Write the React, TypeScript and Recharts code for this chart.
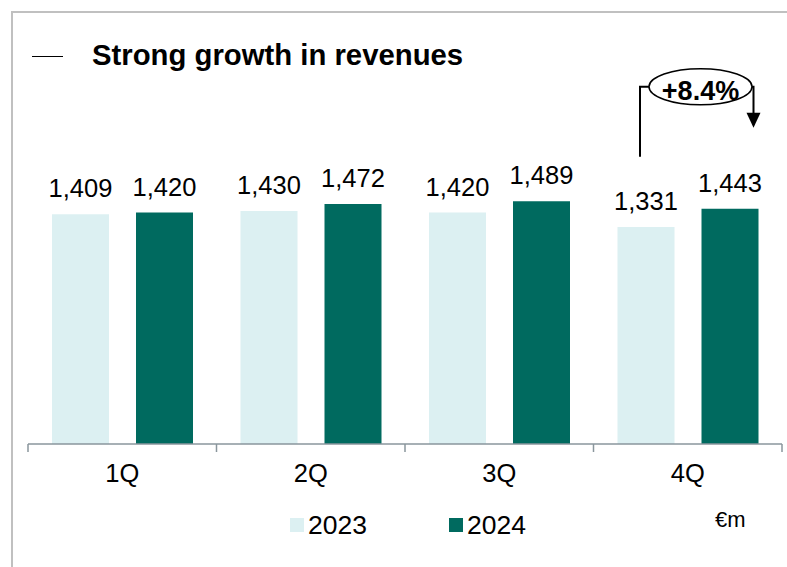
import React from 'react';
import { BarChart, Bar, XAxis, YAxis, LabelList, Legend } from 'recharts';

const quarters = ['1Q', '2Q', '3Q', '4Q'];
const revenue2023 = [1409, 1430, 1420, 1331];
const revenue2024 = [1420, 1472, 1489, 1443];
const seriesNames = ['2023', '2024'];
const growthLabel = '+8.4%';
const unitLabel = '€m';
const titleText = 'Strong growth in revenues';

const data = quarters.map((q, i) => ({ quarter: q, y2023: revenue2023[i], y2024: revenue2024[i] }));

const W = 787;
const H = 567;
const X_AXIS_H = 40;
const LEGEND_H = 26;
const M = { top: 118, right: 5, left: 28, bottom: 123 - X_AXIS_H - LEGEND_H };
const PLOT_W = W - M.left - M.right;
const BAND = PLOT_W / quarters.length;
const BAR = 57;
const GAP = 27;
const AXIS_COLOR = '#8a969c';
const LIGHT = '#dcf0f2';
const DARK = '#006a5f';
const FONT = '"Liberation Sans", Arial, sans-serif';
const TICK_SIZE = 8;
const TICK_MARGIN = 12;

const fmt = (v: any) => Number(v).toLocaleString('en-US');

const renderTick = (props: any) => {
  const { x, y, payload, index } = props;
  const axisY = y - TICK_SIZE - TICK_MARGIN;
  const left = x - BAND / 2;
  const right = x + BAND / 2;
  return (
    <g>
      <line x1={left} x2={left} y1={axisY} y2={axisY + TICK_SIZE} stroke={AXIS_COLOR} strokeWidth={1.5} />
      {index === quarters.length - 1 && (
        <line x1={right} x2={right} y1={axisY} y2={axisY + TICK_SIZE} stroke={AXIS_COLOR} strokeWidth={1.5} />
      )}
      <text x={x} y={y + 18} textAnchor="middle" fontSize={25.5} fill="#000" fontFamily={FONT}>
        {payload.value}
      </text>
    </g>
  );
};

const renderGrowth = (props: any) => {
  if (props.value !== quarters[quarters.length - 1]) return null;
  const vb = props.viewBox && props.viewBox.width !== undefined ? props.viewBox : props;
  const { x, y, width } = vb;
  const lightCenter = x - GAP - width / 2;
  const leftX = lightCenter - 6;
  const cx = x - 1;
  const cy = y - 122;
  const rx = 51.5;
  const ry = 18;
  const rightX = x + width - 5;
  const tipY = y - 81;
  return (
    <g>
      <polyline
        points={`${leftX},${y - 52} ${leftX},${cy} ${cx - rx},${cy}`}
        fill="none"
        stroke="#000"
        strokeWidth={2}
      />
      <polyline
        points={`${cx + rx - 2},${cy} ${rightX},${cy} ${rightX},${tipY - 14}`}
        fill="none"
        stroke="#000"
        strokeWidth={2}
      />
      <polygon points={`${rightX - 7},${tipY - 15} ${rightX + 7},${tipY - 15} ${rightX},${tipY}`} fill="#000" />
      <ellipse cx={cx} cy={cy} rx={rx} ry={ry} fill="#fff" stroke="#000" strokeWidth={1.5} />
      <text x={cx} y={cy + 13} textAnchor="middle" fontWeight="bold" fontSize={27} fill="#000" fontFamily={FONT}>
        {growthLabel}
      </text>
    </g>
  );
};

const renderLegend = (props: any) => {
  const payload = props.payload && props.payload.length ? props.payload : seriesNames.map((n, i) => ({ value: n, color: i === 0 ? LIGHT : DARK }));
  return (
    <div style={{ position: 'relative', height: LEGEND_H, fontFamily: FONT, fontSize: 26.5, color: '#000' }}>
      {payload.map((p: any, i: number) => (
        <div
          key={p.value}
          style={{ position: 'absolute', left: i * 159, top: 0, display: 'flex', alignItems: 'center', height: LEGEND_H, lineHeight: `${LEGEND_H}px`, whiteSpace: 'nowrap' }}
        >
          <span style={{ width: 14, height: 14, background: p.color, marginRight: 4, display: 'inline-block' }} />
          <span>{p.value}</span>
        </div>
      ))}
      <span style={{ position: 'absolute', left: 425, top: -3, fontSize: 22, lineHeight: '22px', whiteSpace: 'nowrap' }}>{unitLabel}</span>
    </div>
  );
};

export default function App() {
  return (
    <div style={{ position: 'absolute', left: 0, top: 0, width: W, height: H, background: '#fff', overflow: 'hidden', fontFamily: FONT }}>
      <div style={{ position: 'absolute', left: 11, top: 11, width: W, height: H, borderTop: '2px solid #c0c0c0', borderLeft: '2px solid #c0c0c0' }} />
      <div style={{ position: 'absolute', left: 32, top: 56, width: 31, height: 1, background: '#000' }} />
      <div style={{ position: 'absolute', left: 92, top: 39.5, fontSize: 29.3, lineHeight: '29px', fontWeight: 'bold', color: '#000', whiteSpace: 'nowrap' }}>
        {titleText}
      </div>
      <div style={{ position: 'absolute', left: 0, top: 0 }}>
        <BarChart width={W} height={H} data={data} margin={M} barGap={GAP}>
          <XAxis
            dataKey="quarter"
            height={X_AXIS_H}
            axisLine={{ stroke: AXIS_COLOR, strokeWidth: 1.5 }}
            tickLine={false}
            tickSize={TICK_SIZE}
            tickMargin={TICK_MARGIN}
            tick={renderTick}
            interval={0}
          />
          <YAxis hide domain={[0, 2000]} />
          <Legend
            verticalAlign="bottom"
            height={LEGEND_H}
            content={renderLegend}
            wrapperStyle={{ position: 'absolute', left: 290, top: 512, bottom: 'auto', width: 470, height: LEGEND_H }}
          />
          <Bar dataKey="y2023" name={seriesNames[0]} fill={LIGHT} barSize={BAR} isAnimationActive={false}>
            <LabelList dataKey="y2023" position="top" offset={17} formatter={fmt} fill="#000" fontSize={25.5} fontFamily={FONT} />
          </Bar>
          <Bar dataKey="y2024" name={seriesNames[1]} fill={DARK} barSize={BAR} isAnimationActive={false}>
            <LabelList dataKey="y2024" position="top" offset={17} formatter={fmt} fill="#000" fontSize={25.5} fontFamily={FONT} />
            <LabelList dataKey="quarter" content={renderGrowth} />
          </Bar>
        </BarChart>
      </div>
    </div>
  );
}
